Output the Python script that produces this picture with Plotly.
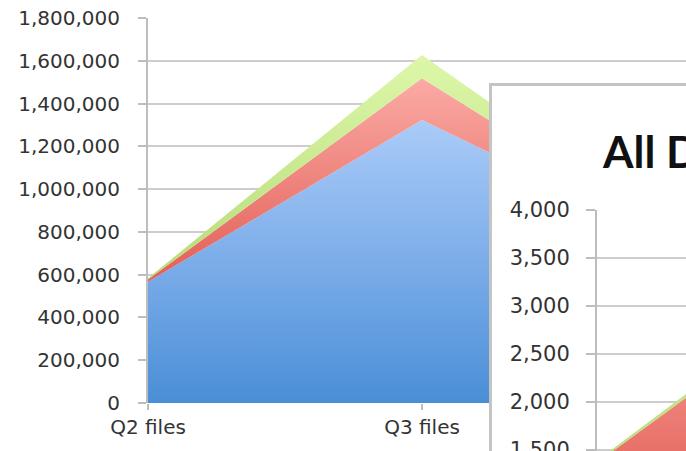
import plotly.graph_objects as go

# ---- data -------------------------------------------------------------
categories = ["Q2 files", "Q3 files", "Q4 files"]

# main chart, stacked bottom to top
files_blue = [567000, 1323000, 705000]
files_red = [10000, 195000, 15000]
files_green = [6000, 109000, 8000]

# "All Downloads" inset chart, stacked bottom to top
inset_blue = [850, 2100, 1100]
inset_red = [512, 1347, 300]
inset_green = [20, 80, 20]

main_ticks = list(range(0, 1800001, 200000))
inset_ticks = list(range(0, 4001, 500))

# ---- styling ----------------------------------------------------------
W, H = 686, 451
GRID = "#cdcdcd"
AXIS = "#bdbdbd"
TEXT = "#333333"

BLUE = [[0.0, "#4a8ed6"], [0.5, "#7cade9"], [1.0, "#aacbf8"]]
RED = [[0.0, "#e25f56"], [1.0, "#fbaaa5"]]
GREEN = [[0.0, "#b6dc78"], [1.0, "#ddf7aa"]]


def px_x(p):
    return p / W


def px_y(p):
    return 1 - p / H


def area(name, values, scale, group, xa, ya):
    return go.Scatter(
        x=categories, y=values, name=name, stackgroup=group, mode="none",
        fillgradient=dict(type="vertical", colorscale=scale),
        xaxis=xa, yaxis=ya, hoverinfo="skip", showlegend=False,
    )


fig = go.Figure()
fig.add_trace(area("Series 1", files_blue, BLUE, "main", "x", "y"))
fig.add_trace(area("Series 2", files_red, RED, "main", "x", "y"))
fig.add_trace(area("Series 3", files_green, GREEN, "main", "x", "y"))

# empty trace that owns the white inset frame
fig.add_trace(go.Scatter(x=[], y=[], xaxis="x2", yaxis="y2",
                         showlegend=False, hoverinfo="skip"))

fig.add_trace(area("Series 1", inset_blue, BLUE, "inset", "x3", "y3"))
fig.add_trace(area("Series 2", inset_red, RED, "inset", "x3", "y3"))
fig.add_trace(area("Series 3", inset_green, GREEN, "inset", "x3", "y3"))

# main axes: category step = 274 px, y from 0 (403 px) to 1.8M (18 px)
fig.update_layout(
    xaxis=dict(
        domain=[px_x(148), 1], type="category", range=[0, (W - 148) / 274],
        showgrid=False, showline=False, zeroline=False,
        ticks="outside", ticklen=6, tickwidth=2, tickcolor=AXIS,
        tickfont=dict(size=20), anchor="y", fixedrange=True, automargin=False,
    ),
    yaxis=dict(
        domain=[px_y(403), px_y(18)], range=[0, 1800000],
        tickvals=main_ticks, tickformat=",",
        showgrid=True, gridcolor=GRID, gridwidth=2,
        showline=True, linecolor=AXIS, linewidth=2, zeroline=False,
        ticks="outside", ticklen=8, tickwidth=2, tickcolor=AXIS,
        tickfont=dict(size=20), ticklabelstandoff=14,
        anchor="x", fixedrange=True, automargin=False,
    ),
    # inset frame
    xaxis2=dict(
        domain=[px_x(492), 1], range=[0, 1], side="top",
        showline=True, linecolor="#c4c4c4", linewidth=3,
        showgrid=False, zeroline=False, showticklabels=False, ticks="",
        anchor="y2", fixedrange=True, automargin=False,
    ),
    yaxis2=dict(
        domain=[0, px_y(86)], range=[0, 1],
        showline=True, linecolor="#c4c4c4", linewidth=3,
        showgrid=False, zeroline=False, showticklabels=False, ticks="",
        anchor="x2", fixedrange=True, automargin=False,
    ),
    # inset plot: 500 per 47.9 px, 4,000 at 210 px
    xaxis3=dict(
        domain=[px_x(597), 1], type="category", range=[0, (W - 597) / 274],
        showgrid=False, showline=False, zeroline=False,
        ticks="outside", ticklen=6, tickwidth=2, tickcolor=AXIS,
        tickfont=dict(size=21), anchor="y3", fixedrange=True, automargin=False,
    ),
    yaxis3=dict(
        domain=[0, px_y(210)], range=[4000 - 500 * (H - 210) / 47.9, 4000],
        tickvals=inset_ticks, tickformat=",", ticklabeloverflow="allow",
        showgrid=True, gridcolor=GRID, gridwidth=2,
        showline=True, linecolor=AXIS, linewidth=2, zeroline=False,
        ticks="outside", ticklen=9, tickwidth=2, tickcolor=AXIS,
        tickfont=dict(size=21), ticklabelstandoff=12,
        anchor="x3", fixedrange=True, automargin=False,
    ),
    annotations=[dict(
        text="<b>All Downloads</b>", xref="paper", yref="paper",
        x=px_x(600), y=px_y(151), xanchor="left", yanchor="middle",
        showarrow=False, font=dict(family="Lato", size=44, color="#111111"),
    )],
    font=dict(family="DejaVu Sans", color=TEXT),
    width=W, height=H,
    margin=dict(l=0, r=0, t=0, b=0, pad=0, autoexpand=False),
    paper_bgcolor="white", plot_bgcolor="white",
    showlegend=False,
)

fig.write_html("out.html", config={"displayModeBar": False})
